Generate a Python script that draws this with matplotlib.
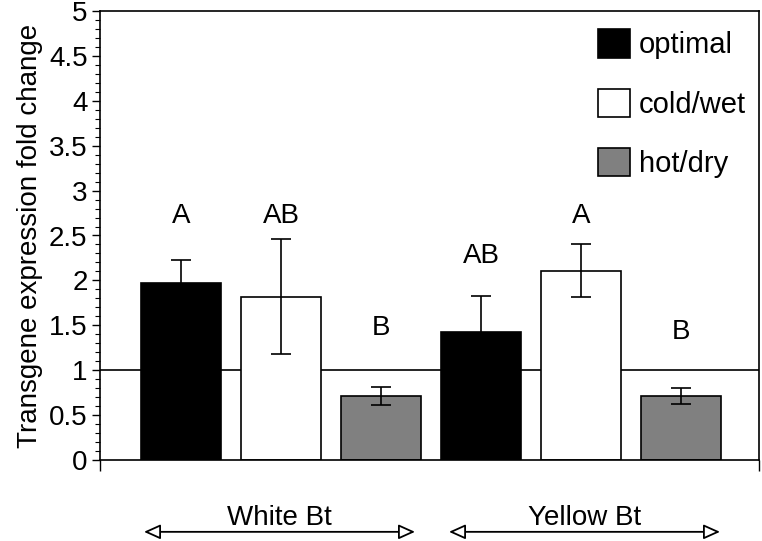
import matplotlib
matplotlib.use('Agg')
import matplotlib.pyplot as plt
from matplotlib.patches import Patch
from matplotlib.ticker import MultipleLocator

plt.rcParams['font.family'] = ['Liberation Sans', 'DejaVu Sans']

# data
varieties = ['White Bt', 'Yellow Bt']
conditions = ['optimal', 'cold/wet', 'hot/dry']
colors = ['black', 'white', '#808080']

white_means = [1.97, 1.82, 0.71]
white_err = [0.26, 0.64, 0.10]
yellow_means = [1.42, 2.11, 0.71]
yellow_err = [0.41, 0.29, 0.09]

white_letters = ['A', 'AB', 'B']
white_letter_y = [2.72, 2.72, 1.47]
yellow_letters = ['AB', 'A', 'B']
yellow_letter_y = [2.27, 2.72, 1.43]

fs = 20

fig = plt.figure(figsize=(7.62, 5.41), dpi=100)
ax = fig.add_axes([100 / 762, 81 / 541, 659 / 762, 449 / 541])

groups = [(white_means, white_err, white_letters, white_letter_y),
          (yellow_means, yellow_err, yellow_letters, yellow_letter_y)]

for g, (means, errs, letters, ly) in enumerate(groups):
    for i in range(3):
        x = g * 3 + i
        ax.bar(x, means[i], width=0.8, color=colors[i], edgecolor='black',
               linewidth=1.2, zorder=2)
        ax.errorbar(x, means[i], yerr=errs[i], color='black', elinewidth=1.2,
                    capsize=7, capthick=1.2, zorder=3)
        ax.text(x, ly[i], letters[i], ha='center', va='center', fontsize=fs)

ax.axhline(1, color='black', linewidth=1.2, zorder=1)

ax.set_xlim(-0.81, 5.78)
ax.set_ylim(0, 5)
ax.yaxis.set_major_locator(MultipleLocator(0.5))
ax.yaxis.set_minor_locator(MultipleLocator(0.1))
ax.yaxis.set_major_formatter(plt.FuncFormatter(lambda v, p: '%g' % v))
ax.tick_params(axis='y', which='major', length=6, width=1, labelsize=fs, pad=3)
ax.tick_params(axis='y', which='minor', length=3.5, width=0.8)
ax.set_xticks([-0.81, 5.78])
ax.set_xticklabels(['', ''])
ax.tick_params(axis='x', length=8, width=1)
for s in ax.spines.values():
    s.set_linewidth(1.2)

ax.set_ylabel('Transgene expression fold change', fontsize=fs, labelpad=4)

handles = [Patch(facecolor=c, edgecolor='black', linewidth=1.2) for c in colors]
ax.legend(handles, conditions, loc='upper right', bbox_to_anchor=(1.005, 0.995),
          frameon=False, fontsize=21, handlelength=1.12, handleheight=1.12,
          handletextpad=0.3, labelspacing=1.0, borderaxespad=0.15)

# group labels with double-headed arrows under the axis
trans = ax.get_xaxis_transform()
for g, name in enumerate(varieties):
    x0 = g * 3 - 0.37 + g * 0.05
    x1 = g * 3 + 2.34 + g * 0.05
    ax.annotate('', xy=(x0, -0.16), xytext=(x1, -0.16), xycoords=trans,
                textcoords=trans, annotation_clip=False,
                arrowprops=dict(arrowstyle='<|-|>,head_length=1.0,head_width=0.45',
                                fc='white', ec='black', lw=1.3,
                                shrinkA=0, shrinkB=0))
    ax.text((x0 + x1) / 2, -0.13, name, transform=trans, ha='center',
            va='center', fontsize=fs)

fig.savefig('out.png', dpi=100)
